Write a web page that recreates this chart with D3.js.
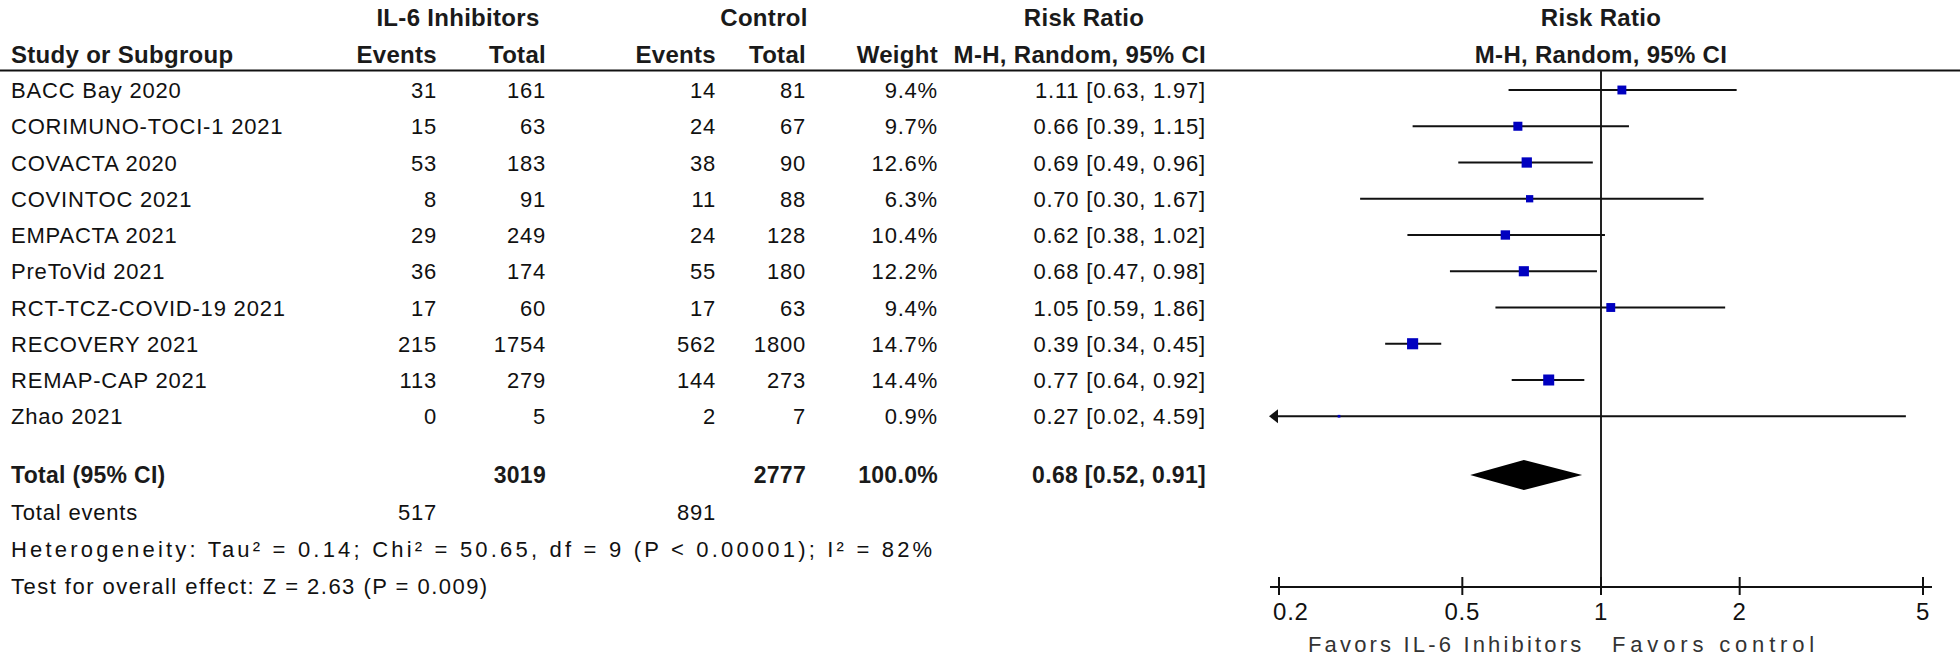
<!DOCTYPE html>
<html><head><meta charset="utf-8">
<script src="https://cdn.jsdelivr.net/npm/d3@7"></script>
<style>
html,body{margin:0;padding:0;background:#fff;}
svg text{font-family:"Liberation Sans",Arial,sans-serif;fill:#111;letter-spacing:0.8px;}
.b{font-weight:bold;fill:#1a1a1a;letter-spacing:0.3px;}
</style></head>
<body>
<svg id="c" width="1960" height="656"></svg>
<script>
const studies = ["BACC Bay 2020","CORIMUNO-TOCI-1 2021","COVACTA 2020","COVINTOC 2021","EMPACTA 2021","PreToVid 2021","RCT-TCZ-COVID-19 2021","RECOVERY 2021","REMAP-CAP 2021","Zhao 2021"];
const eventsTx = [31,15,53,8,29,36,17,215,113,0];
const totalTx = [161,63,183,91,249,174,60,1754,279,5];
const eventsCtl = [14,24,38,11,24,55,17,562,144,2];
const totalCtl = [81,67,90,88,128,180,63,1800,273,7];
const weights = [9.4,9.7,12.6,6.3,10.4,12.2,9.4,14.7,14.4,0.9];
const rr = [1.11,0.66,0.69,0.70,0.62,0.68,1.05,0.39,0.77,0.27];
const ciLow = [0.63,0.39,0.49,0.30,0.38,0.47,0.59,0.34,0.64,0.02];
const ciHigh = [1.97,1.15,0.96,1.67,1.02,0.98,1.86,0.45,0.92,4.59];
const pooled = {rr:0.68, lo:0.52, hi:0.91, totalTx:3019, totalCtl:2777, weight:"100.0%", evTx:517, evCtl:891};
const heterogeneityText = "Heterogeneity: Tau\u00B2 = 0.14; Chi\u00B2 = 50.65, df = 9 (P < 0.00001); I\u00B2 = 82%";
const overallText = "Test for overall effect: Z = 2.63 (P = 0.009)";
const tickValues = [0.2,0.5,1,2,5];
const tickLabels = ["0.2","0.5","1","2","5"];
const favorsLeft = "Favors IL-6 Inhibitors";
const favorsRight = "Favors control";

const svg = d3.select("#c");
const FS = 22, HFS = 24;
const fmt2 = d3.format(".2f");

// layout
const leftX = 11;
const col = {ev1:437, tot1:546, ev2:716, tot2:806, w:938, ci:1206};
const yRow = d3.scaleLinear().domain([0,1]).range([90, 126.25]);
const yTotal = 475, yEvents = 512, yHet = 549, yTest = 586;
const x = d3.scaleLog().domain([0.2,5]).range([1279,1923]);
const axisY = 587;
const headerLineY = 70.5;

function t(xp, yp, s, anchor, bold, size){
  return svg.append("text").attr("x",xp).attr("y",yp).attr("text-anchor",anchor||"start")
    .attr("class", bold?"b":null).style("font-size",(size||(bold?HFS:FS))+"px").text(s);
}
// header
t(458, 26, "IL-6 Inhibitors","middle",true);
t(764, 26, "Control","middle",true);
t(1084, 26, "Risk Ratio","middle",true);
t(x(1), 26, "Risk Ratio","middle",true);
t(leftX, 63, "Study or Subgroup","start",true);
t(col.ev1, 63, "Events","end",true);
t(col.tot1, 63, "Total","end",true);
t(col.ev2, 63, "Events","end",true);
t(col.tot2, 63, "Total","end",true);
t(col.w, 63, "Weight","end",true);
t(col.ci, 63, "M-H, Random, 95% CI","end",true);
t(x(1), 63, "M-H, Random, 95% CI","middle",true);
svg.append("line").attr("x1",0).attr("x2",1960).attr("y1",headerLineY).attr("y2",headerLineY)
  .attr("stroke","#111").attr("stroke-width",2);

// rows
studies.forEach((s,i)=>{
  const yb = yRow(i)+8;
  t(leftX, yb, s);
  t(col.ev1, yb, eventsTx[i],"end");
  t(col.tot1, yb, totalTx[i],"end");
  t(col.ev2, yb, eventsCtl[i],"end");
  t(col.tot2, yb, totalCtl[i],"end");
  t(col.w, yb, weights[i].toFixed(1)+"%","end");
  t(col.ci, yb, `${fmt2(rr[i])} [${fmt2(ciLow[i])}, ${fmt2(ciHigh[i])}]`,"end");
});
// total rows
t(leftX, yTotal+8, "Total (95% CI)","start",true,23);
t(col.tot1, yTotal+8, pooled.totalTx,"end",true,23);
t(col.tot2, yTotal+8, pooled.totalCtl,"end",true,23);
t(col.w, yTotal+8, pooled.weight,"end",true,23);
t(col.ci, yTotal+8, `${fmt2(pooled.rr)} [${fmt2(pooled.lo)}, ${fmt2(pooled.hi)}]`,"end",true,23);
t(leftX, yEvents+8, "Total events");
t(col.ev1, yEvents+8, pooled.evTx,"end");
t(col.ev2, yEvents+8, pooled.evCtl,"end");
t(leftX, yHet+8, heterogeneityText).attr("textLength", 933-leftX).attr("lengthAdjust","spacing");
t(leftX, yTest+8, overallText).attr("textLength", 488-leftX).attr("lengthAdjust","spacing");

// plot
const g = svg.append("g");
g.append("line").attr("x1",x(1)).attr("x2",x(1)).attr("y1",headerLineY).attr("y2",axisY)
  .attr("stroke","#222").attr("stroke-width",2);
const xmin = x.domain()[0], xmax = x.domain()[1];
studies.forEach((s,i)=>{
  const yc = yRow(i);
  const hi = Math.min(ciHigh[i], xmax);
  const x1 = ciLow[i] < xmin ? x(xmin)-6 : x(ciLow[i]);
  g.append("line").attr("x1",x1).attr("x2",x(hi)).attr("y1",yc).attr("y2",yc)
    .attr("stroke","#111").attr("stroke-width",2);
  if (ciLow[i] < xmin){
    const ax = x(xmin)-10;
    g.append("path").attr("d",`M${ax},${yc} L${ax+9},${yc-7} L${ax+9},${yc+7} Z`).attr("fill","#111");
  }
  const side = 2.9*Math.sqrt(weights[i]);
  g.append("rect").attr("x",x(rr[i])-side/2).attr("y",yc-side/2).attr("width",side).attr("height",side)
    .attr("fill","#0000c0");
});
// diamond
g.append("path").attr("d",`M${x(pooled.lo)},${yTotal} L${x(pooled.rr)},${yTotal-15} L${x(pooled.hi)},${yTotal} L${x(pooled.rr)},${yTotal+15} Z`)
  .attr("fill","#000");
// axis
g.append("line").attr("x1",x(xmin)-9).attr("x2",x(xmax)+9).attr("y1",axisY).attr("y2",axisY)
  .attr("stroke","#111").attr("stroke-width",2);
tickValues.forEach((v,k)=>{
  g.append("line").attr("x1",x(v)).attr("x2",x(v)).attr("y1",axisY-10).attr("y2",axisY+8)
    .attr("stroke","#111").attr("stroke-width",2);
  if (k === 0) t(x(v)-6, 620, tickLabels[k], "start", false, 24);
  else t(x(v), 620, tickLabels[k], "middle", false, 24);
});
t(1308, 652, favorsLeft, "start", false, 22).attr("textLength", 1582-1308).attr("lengthAdjust","spacing").style("fill","#333");
t(1612, 652, favorsRight, "start", false, 22).attr("textLength", 1815-1612).attr("lengthAdjust","spacing").style("fill","#333");
</script>
</body></html>
